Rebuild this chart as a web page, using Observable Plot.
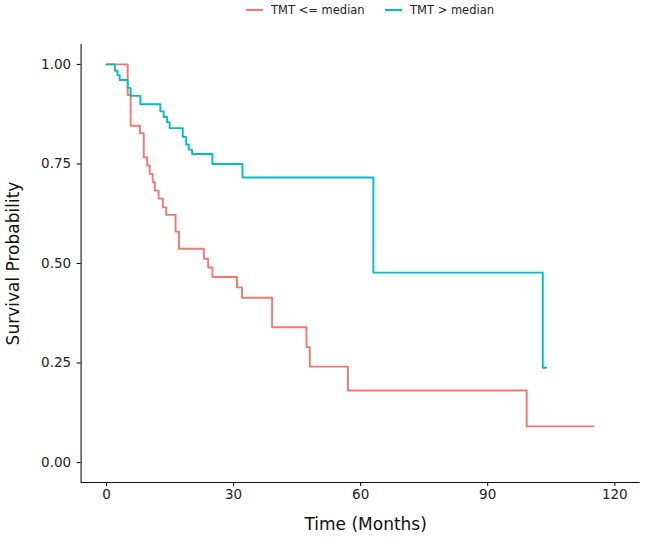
<!DOCTYPE html>
<html>
<head>
<meta charset="utf-8">
<script src="https://cdn.jsdelivr.net/npm/d3@7"></script>
<script src="https://cdn.jsdelivr.net/npm/@observablehq/plot@0.6"></script>
<style>
  html, body { margin: 0; padding: 0; background: #fff; }
  #legend { position: relative; height: 22px; font-family: "DejaVu Sans", sans-serif; font-size: 11.5px; color: #222; }
  #legend .item { position: absolute; top: 3px; display: flex; align-items: center; white-space: nowrap; }
  #legend .key { display: inline-block; width: 17px; height: 0; border-top: 2px solid; margin-right: 8px; }
</style>
</head>
<body>
<div id="legend"></div>
<div id="chart"></div>
<script>
// ---- data ----
const groups = ["TMT <= median", "TMT > median"];
const colors = ["#F8766D", "#00BFC4"];

// TMT <= median : step times (months) and survival after each step
const lowTime = [0, 5.0, 5.7, 7.9, 8.8, 9.6, 10.2, 10.9, 11.4, 12.3, 13.3, 14.1, 16.3, 17.1, 23.0, 24.0, 25.0, 30.8, 32.0, 39.1, 47.2, 48.0, 57.0, 99.2];
const lowSurv = [1.0, 0.923, 0.846, 0.827, 0.767, 0.746, 0.725, 0.704, 0.683, 0.663, 0.641, 0.622, 0.580, 0.537, 0.512, 0.490, 0.466, 0.440, 0.414, 0.340, 0.290, 0.241, 0.181, 0.091];
const lowEnd = 115.0;

// TMT > median
const highTime = [0, 2.0, 2.6, 3.1, 5.0, 5.7, 8.0, 12.7, 13.5, 14.3, 14.9, 18.0, 18.8, 19.4, 20.2, 25.0, 32.1, 63.0, 103.0];
const highSurv = [1.0, 0.984, 0.973, 0.961, 0.941, 0.921, 0.900, 0.882, 0.868, 0.855, 0.840, 0.818, 0.799, 0.786, 0.775, 0.750, 0.716, 0.477, 0.238];
const highEnd = 103.8;

const xTicks = [0, 30, 60, 90, 120];
const yTicks = [0, 0.25, 0.5, 0.75, 1.0];
const xDomain = [-6, 126];
const yDomain = [-0.05, 1.05];
const xTitle = "Time (Months)";
const yTitle = "Survival Probability";

// ---- build table ----
function series(times, surv, end, group) {
  const rows = times.map((t, i) => ({time: t, surv: surv[i], group}));
  rows.push({time: end, surv: surv[surv.length - 1], group});
  return rows;
}
const rows = [
  ...series(lowTime, lowSurv, lowEnd, groups[0]),
  ...series(highTime, highSurv, highEnd, groups[1])
];

// ---- legend ----
const legend = document.getElementById("legend");
const legendLeft = [246, 385];
groups.forEach((g, i) => {
  const item = document.createElement("div");
  item.className = "item";
  item.style.left = legendLeft[i] + "px";
  const key = document.createElement("span");
  key.className = "key";
  key.style.borderTopColor = colors[i];
  const label = document.createElement("span");
  label.textContent = g;
  item.appendChild(key);
  item.appendChild(label);
  legend.appendChild(item);
});

// ---- chart ----
const chart = Plot.plot({
  width: 645,
  height: 524,
  marginTop: 22,
  marginBottom: 64,
  marginLeft: 80.6,
  marginRight: 5.3,
  style: {fontFamily: "DejaVu Sans, sans-serif", fontSize: "13.5px", color: "#222", background: "#fff"},
  x: {domain: xDomain},
  y: {domain: yDomain},
  color: {domain: groups, range: colors},
  marks: [
    Plot.axisX(xTicks, {tickSize: 4, tickPadding: 3, tickFormat: d => String(d), label: null, stroke: "#000"}),
    Plot.axisY(yTicks, {tickSize: 4, tickPadding: 6, tickFormat: d3.format(".2f"), label: null, stroke: "#000"}),
    Plot.ruleX([xDomain[0]], {stroke: "#111", strokeWidth: 1.1}),
    Plot.ruleY([yDomain[0]], {stroke: "#111", strokeWidth: 1.1}),
    Plot.line(rows, {x: "time", y: "surv", z: "group", stroke: "group", curve: "step-after", strokeWidth: 1.9}),
    Plot.text([xTitle], {text: d => d, frameAnchor: "bottom", textAnchor: "middle", dx: 5, dy: 47, fontSize: 17, fill: "#111"}),
    Plot.text([yTitle], {text: d => d, frameAnchor: "left", textAnchor: "middle", dx: -68, rotate: -90, fontSize: 17, fill: "#111"})
  ]
});
document.getElementById("chart").appendChild(chart);
</script>
</body>
</html>
